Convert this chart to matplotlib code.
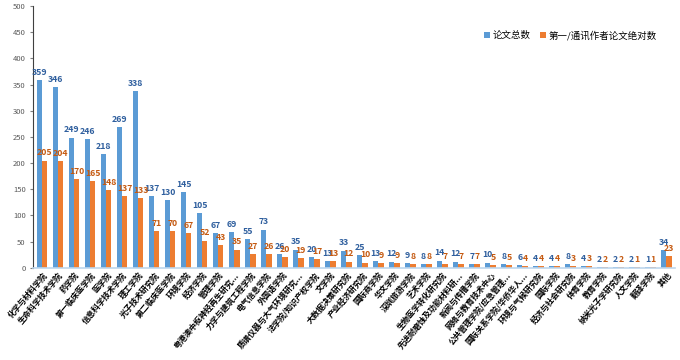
import numpy as np
import matplotlib
matplotlib.use('Agg')
import matplotlib.pyplot as plt

plt.rcParams['font.family'] = ['Noto Sans CJK SC', 'DejaVu Sans']

categories = ['化学与材料学院', '生命科学技术学院', '药学院', '第一临床医学院', '医学院',
              '信息科学技术学院', '理工学院', '光子技术研究院', '第二临床医学院', '环境学院',
              '经济学院', '管理学院', '粤港澳中枢神经再生研究...', '力学与建筑工程学院', '电气信息学院',
              '外国语学院', '质谱仪器与大气环境研究...', '法学院/知识产权学院', '文学院', '大数据决策研究院',
              '产业经济研究院', '国际商学院', '华文学院', '深圳旅游学院', '艺术学院',
              '生物医学转化研究院', '先进耐磨蚀及功能材料研...', '新闻与传播学院', '网络与教育技术中心', '公共管理学院/应急管理...',
              '国际关系学院/华侨华人...', '环境与气候研究院', '国际学院', '经济与社会研究院', '体育学院',
              '教育学院', '纳米光子学研究院', '人文学院', '翻译学院', '其他']
total = [359, 346, 249, 246, 218, 269, 338, 137, 130, 145,
         105, 67, 69, 55, 73, 26, 35, 20, 13, 33,
         25, 13, 12, 9, 8, 14, 12, 7, 10, 8,
         6, 4, 4, 8, 4, 2, 2, 2, 1, 34]
first = [205, 204, 170, 165, 148, 137, 133, 71, 70, 67,
         52, 43, 35, 27, 26, 20, 19, 17, 13, 12,
         10, 9, 9, 8, 8, 7, 7, 7, 5, 5,
         4, 4, 4, 3, 3, 2, 2, 1, 1, 23]
series_names = ['论文总数', '第一/通讯作者论文绝对数']

blue = '#5B9BD5'
orange = '#ED7D31'

fig = plt.figure(figsize=(6.8, 3.6), dpi=100)
ax = fig.add_axes([0.049, 0.256, 0.944, 0.727])

x = np.arange(len(categories))
w = 0.33
ax.bar(x - w / 2, total, w, color=blue, label=series_names[0])
ax.bar(x + w / 2, first, w, color=orange, label=series_names[1])

for xi, v in zip(x, total):
    ax.text(xi - w / 2, v + 6, str(v), ha='center', va='bottom', fontsize=6.3,
            color='#2F5F9E', fontweight='bold')
for xi, v in zip(x, first):
    ax.text(xi + w / 2, v + 6, str(v), ha='center', va='bottom', fontsize=6.3,
            color='#C55A11', fontweight='bold')

ax.set_ylim(0, 500)
ax.set_yticks(np.arange(0, 501, 50))
ax.set_xlim(-0.55, len(categories) - 0.45)
ax.set_xticks(x)
ax.set_xticklabels(categories, rotation=50, ha='right', rotation_mode='anchor',
                   fontsize=5.8, fontweight='bold')
ax.tick_params(axis='y', labelsize=5.5, labelcolor='#595959', length=2, color='#7f7f7f')
ax.tick_params(axis='x', length=0, pad=2)

for s in ['top', 'right']:
    ax.spines[s].set_visible(False)
ax.spines['left'].set_color('#404040')
ax.spines['left'].set_linewidth(0.8)
ax.spines['bottom'].set_color('#BDD7EE')
ax.spines['bottom'].set_linewidth(1.2)

ax.legend(loc='upper right', bbox_to_anchor=(0.985, 0.94), frameon=False, ncol=2,
          fontsize=6.8, handlelength=0.6, handleheight=0.6, handletextpad=0.3,
          columnspacing=1.0)

fig.savefig('out.png', dpi=100)
